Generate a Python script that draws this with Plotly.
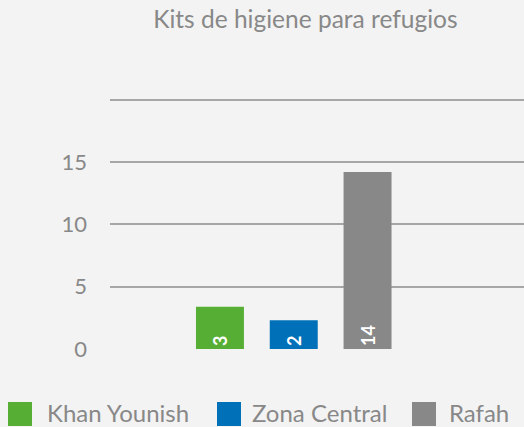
import plotly.graph_objects as go

categories = ["Khan Younish", "Zona Central", "Rafah"]
values = [3.4, 2.3, 14.2]
labels = [3, 2, 14]
colors = ["#56ae34", "#0070b8", "#888888"]
y_ticks = [0, 5, 10, 15, 20]
y_ticklabels = ["0", "5", "10", "15", ""]

# manual legend layout (pixels)
legend_square_x = [8, 217, 412]
legend_text_x = [45, 250, 447]

W, H = 524, 427
L, T, B = 110, 96, 78
PH = H - T - B
PW = W - L


def py(y):
    return -(y - (H - B)) / PH


fig = go.Figure()
for cat, val, lab, col in zip(categories, values, labels, colors):
    fig.add_trace(go.Bar(
        x=[cat], y=[val], name=cat,
        marker=dict(color=col, line=dict(width=0)),
        width=0.65,
        text=[str(lab)], textposition="inside", insidetextanchor="start",
        textangle=-90,
        textfont=dict(family="Lato", size=18, color="white", weight="bold"),
        showlegend=False,
    ))

shapes = []
annotations = []
for cat, col, sx, tx in zip(categories, colors, legend_square_x, legend_text_x):
    shapes.append(dict(type="rect", xref="paper", yref="paper",
                       x0=(sx - L) / PW, x1=(sx + 24 - L) / PW,
                       y0=py(426), y1=py(402),
                       fillcolor=col, line=dict(width=0)))
    annotations.append(dict(text=cat, xref="paper", yref="paper",
                            x=(tx - L) / PW, y=py(413),
                            xanchor="left", yanchor="middle", showarrow=False,
                            font=dict(family="Lato", size=24, color="#888888")))

fig.update_layout(
    width=W, height=H,
    paper_bgcolor="#f3f3f3", plot_bgcolor="#f3f3f3",
    margin=dict(l=L, r=0, t=T, b=B, autoexpand=False),
    barmode="overlay",
    font=dict(family="Lato", color="#888888", size=20),
    title=dict(text="Kits de higiene para refugios", x=0.472, xref="paper",
               xanchor="center", y=0.955, yanchor="middle",
               font=dict(family="Lato", size=24.5, color="#888888")),
    xaxis=dict(type="category", categoryorder="array", categoryarray=categories,
               range=[-1.49, 4.12], showticklabels=False, showgrid=False,
               zeroline=False, showline=False, ticks="", automargin=False),
    yaxis=dict(range=[0, 20.3], tickvals=y_ticks, ticktext=y_ticklabels,
               showgrid=True, gridcolor="#a6a6a6", gridwidth=1.6,
               zeroline=False, showline=False, ticks="", ticklabelstandoff=22,
               automargin=False,
               tickfont=dict(family="Lato", size=22, color="#888888")),
    shapes=shapes,
    annotations=annotations,
    showlegend=False,
)

fig.write_html(
    "out.html",
    config={"displayModeBar": False},
    post_script="document.body.style.margin='0';document.body.style.background='#f3f3f3';",
)
